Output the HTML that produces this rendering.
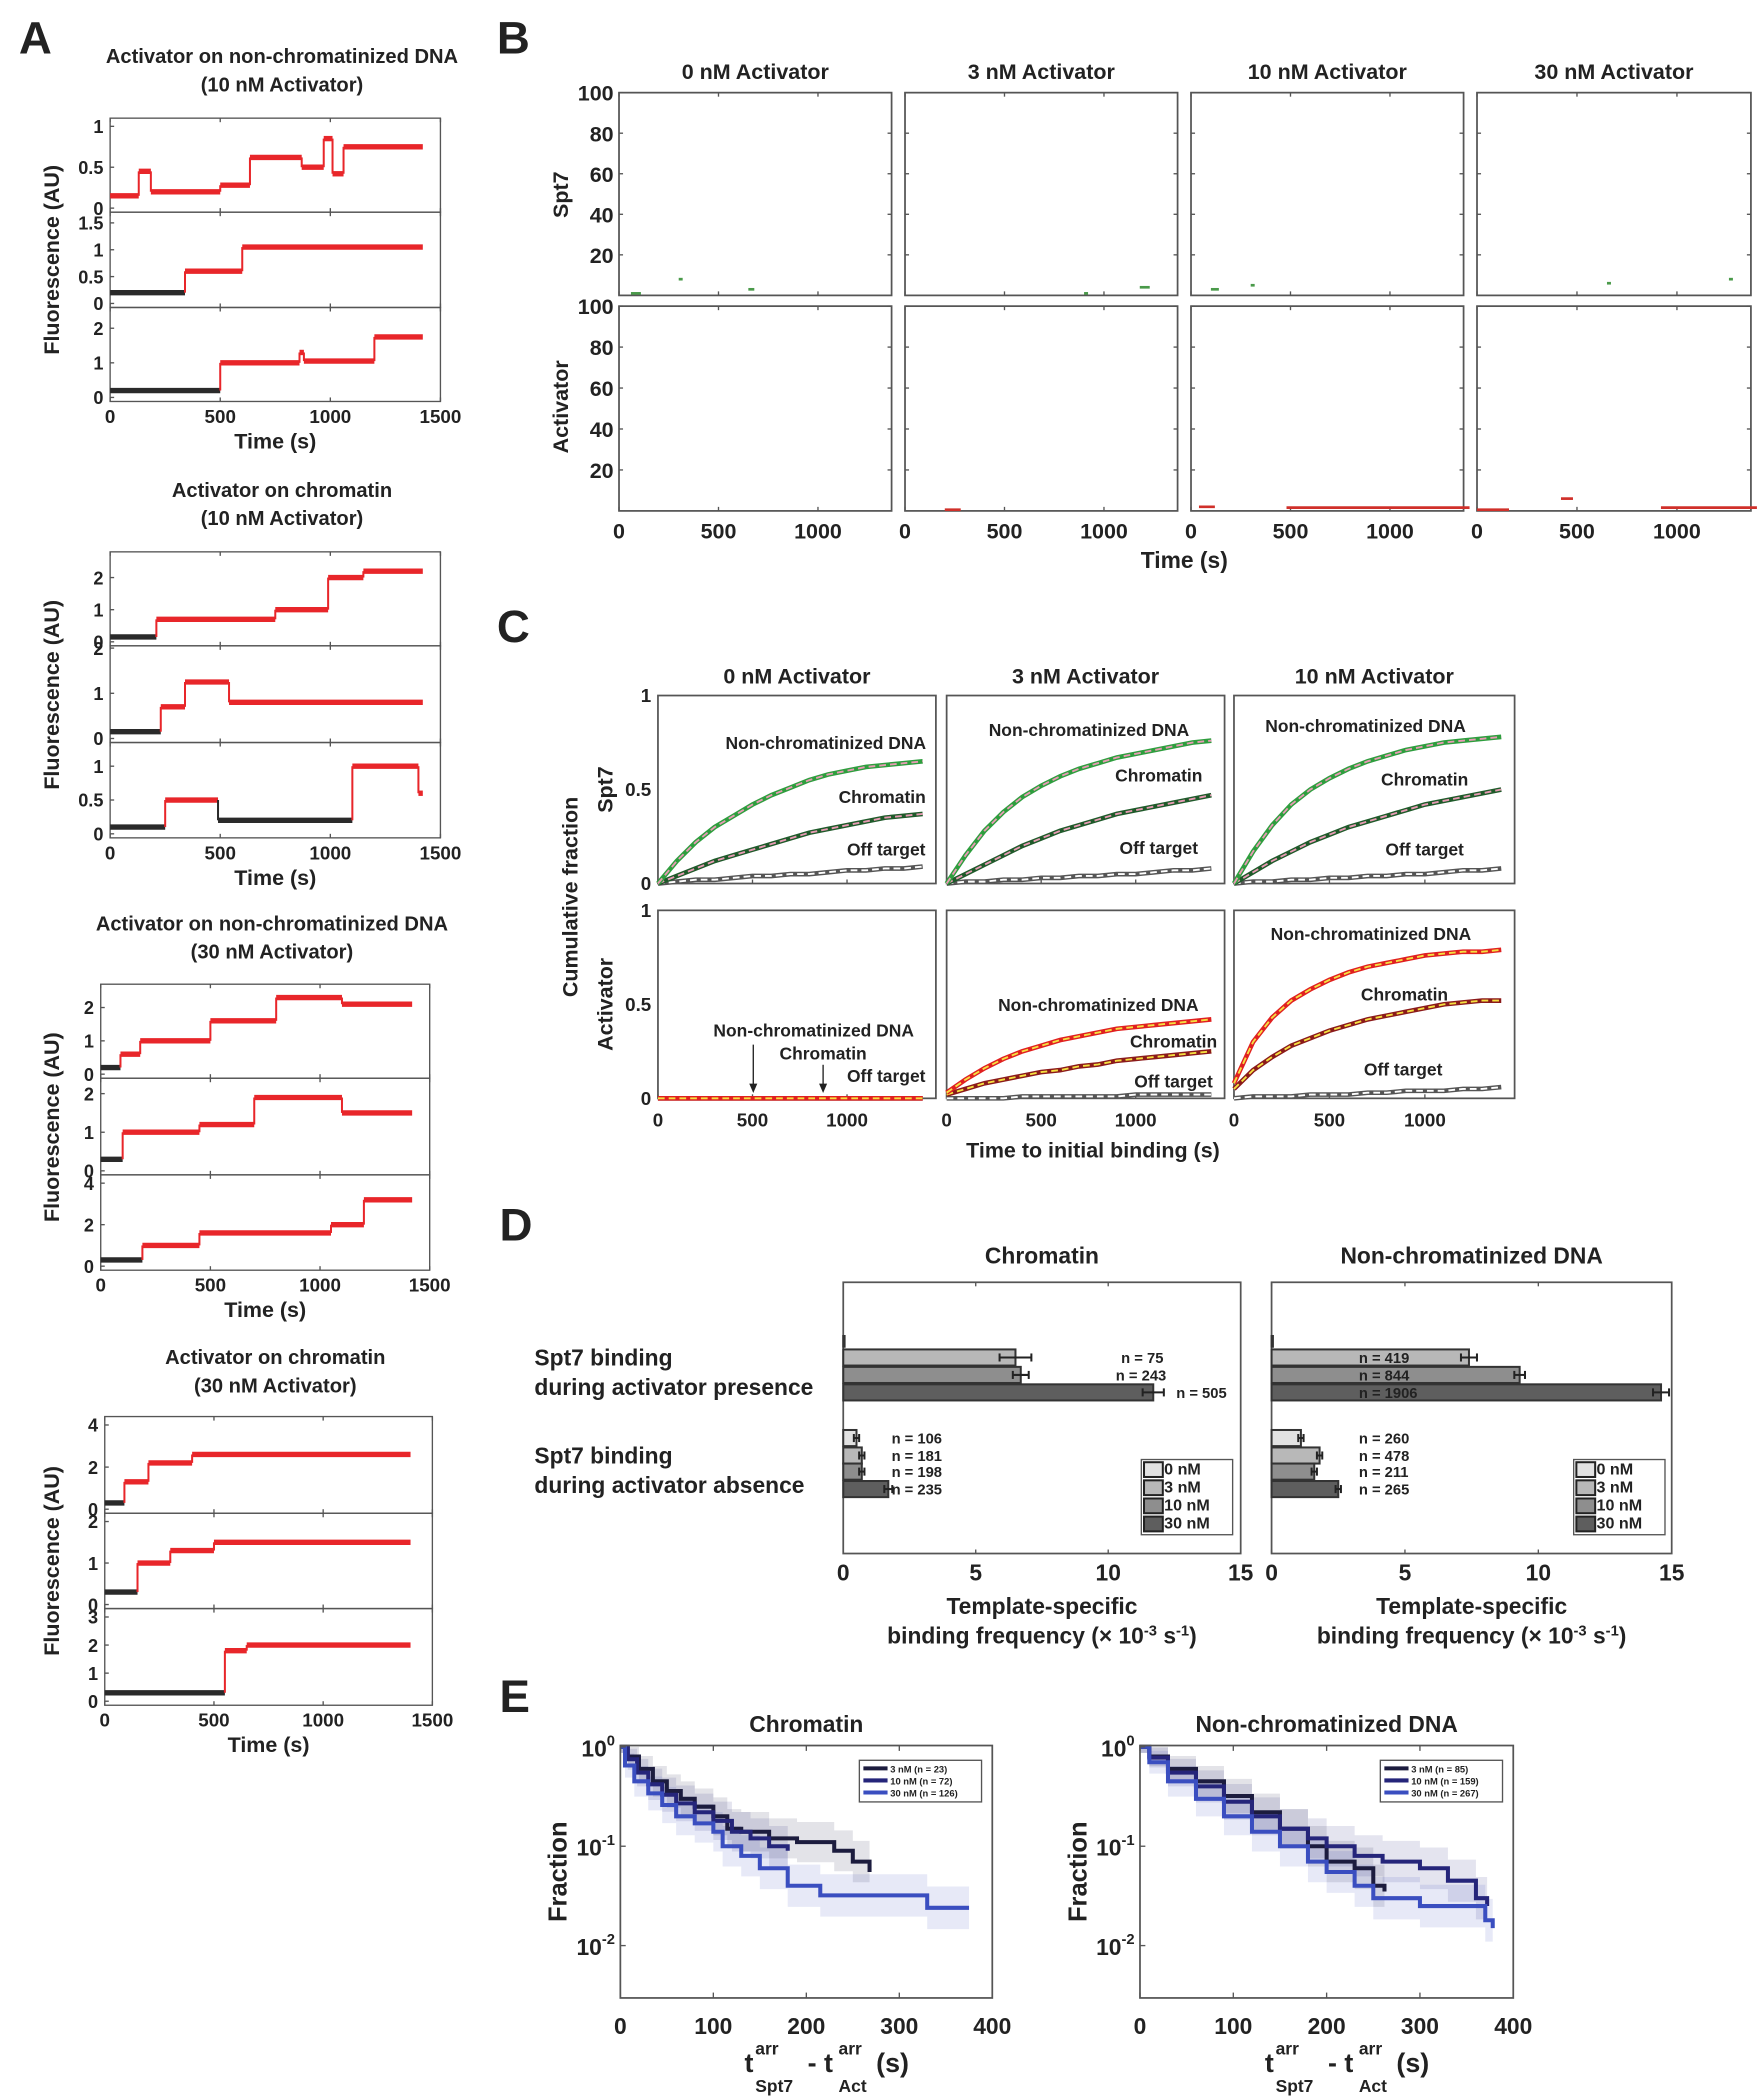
<!DOCTYPE html>
<html><head><meta charset="utf-8"><style>
html,body{margin:0;padding:0;background:#fff;}
svg{display:block;}
text{font-family:"Liberation Sans",sans-serif;font-weight:bold;fill:#222;}
.n{font-family:"Liberation Sans Narrow","Liberation Sans",sans-serif;}
</style></head><body>
<svg id="fig" xmlns="http://www.w3.org/2000/svg" width="1759" height="2100" viewBox="0 0 1310 1564"></svg>
<script>
// ---------- Panel A data (step traces: start times, levels, colour k/r) ----------
const aP1T = [[0,130,185,500,635,870,970,1010,1060],[0,340,600],[0,500,860,880,1200]];
const aP1L = [[0.15,0.45,0.2,0.28,0.62,0.5,0.85,0.42,0.75],[0.2,0.6,1.05],[0.2,1.0,1.3,1.05,1.75]];
const aP1C = [["r","r","r","r","r","r","r","r","r"],["k","r","r"],["k","r","r","r","r"]];
const aP2T = [[0,210,750,990,1150],[0,230,340,540],[0,250,490,1100,1400]];
const aP2L = [[0.15,0.7,1.0,2.0,2.2],[0.15,0.7,1.25,0.8],[0.1,0.5,0.2,1.0,0.6]];
const aP2C = [["k","r","r","r","r"],["k","r","r","r"],["k","r","k","r","r"]];
const aP3T = [[0,90,180,500,800,1100],[0,100,450,700,1100],[0,190,450,1050,1200]];
const aP3L = [[0.2,0.6,1.0,1.6,2.3,2.1],[0.3,1.0,1.2,1.9,1.5],[0.3,1.0,1.6,2.0,3.2]];
const aP3C = [["k","r","r","r","r","r"],["k","r","r","r","r"],["k","r","r","r","r"]];
const aP4T = [[0,90,200,400],[0,150,300,500],[0,550,650]];
const aP4L = [[0.3,1.3,2.2,2.6],[0.3,1.0,1.3,1.5],[0.3,1.8,2.0]];
const aP4C = [["k","r","r","r"],["k","r","r","r"],["k","r","r"]];
const aYmax = [[1.1,1.7,2.6],[2.8,2.05,1.35],[2.7,2.4,4.4],[4.4,2.2,3.3]];
const aYticks = [[[0,0.5,1],[0,0.5,1,1.5],[0,1,2]],[[0,1,2],[0,1,2],[0,0.5,1]],[[0,1,2],[0,1,2],[0,2,4]],[[0,2,4],[0,1,2],[0,1,2,3]]];
const aXticks = [0,500,1000,1500];
// ---------- Panel B data ----------
const bCols = ["0 nM Activator","3 nM Activator","10 nM Activator","30 nM Activator"];
const bYticks = [20,40,60,80,100];
const bXticks = [0,500,1000];
const bSpt7Marks = [[[60,110,1],[650,680,3],[300,320,8]],[[1180,1230,4],[900,920,1]],[[100,140,3],[300,320,5]],[[650,670,6],[1260,1280,8]]];
const bActMarks = [[],[[200,280,0.6]],[[40,120,2],[480,1400,1.6]],[[0,160,0.6],[420,480,6],[920,1400,1.6]]];
// ---------- Panel C data ----------
const cT = [0,100,200,300,400,500,600,700,800,900,1000,1100,1200,1300,1400];
const cTopNon = [[0,0.12,0.22,0.3,0.36,0.42,0.47,0.51,0.55,0.58,0.6,0.62,0.63,0.64,0.65],[0,0.15,0.28,0.38,0.46,0.52,0.57,0.61,0.64,0.67,0.69,0.71,0.73,0.75,0.76],[0,0.17,0.31,0.42,0.5,0.56,0.61,0.65,0.68,0.71,0.73,0.75,0.76,0.77,0.78]];
const cTopChr = [[0,0.04,0.08,0.12,0.15,0.18,0.21,0.24,0.27,0.29,0.31,0.33,0.35,0.36,0.37],[0,0.05,0.1,0.15,0.2,0.24,0.28,0.31,0.34,0.37,0.39,0.41,0.43,0.45,0.47],[0,0.06,0.12,0.17,0.22,0.26,0.3,0.33,0.36,0.39,0.42,0.44,0.46,0.48,0.5]];
const cTopOff = [[0,0.01,0.02,0.02,0.03,0.04,0.04,0.05,0.05,0.06,0.07,0.07,0.08,0.08,0.09],[0,0.01,0.01,0.02,0.02,0.03,0.03,0.04,0.04,0.05,0.05,0.06,0.07,0.07,0.08],[0,0.01,0.01,0.02,0.02,0.03,0.03,0.04,0.04,0.05,0.05,0.06,0.07,0.07,0.08]];
const cBotNon = [[0,0,0,0,0,0,0,0,0,0,0,0,0,0,0],[0.03,0.1,0.16,0.21,0.25,0.28,0.31,0.33,0.35,0.37,0.38,0.39,0.4,0.41,0.42],[0.08,0.3,0.43,0.52,0.58,0.63,0.67,0.7,0.72,0.74,0.76,0.77,0.78,0.78,0.79]];
const cBotChr = [[0,0,0,0,0,0,0,0,0,0,0,0,0,0,0],[0.02,0.05,0.08,0.1,0.12,0.14,0.15,0.17,0.18,0.2,0.21,0.22,0.23,0.24,0.25],[0.05,0.15,0.22,0.28,0.32,0.36,0.39,0.42,0.44,0.46,0.48,0.5,0.51,0.52,0.52]];
const cBotOff = [[0,0,0,0,0,0,0,0,0,0,0,0,0,0,0],[0,0,0,0,0.01,0.01,0.01,0.01,0.01,0.01,0.02,0.02,0.02,0.02,0.02],[0,0.01,0.01,0.01,0.02,0.02,0.02,0.03,0.03,0.04,0.04,0.04,0.05,0.05,0.06]];
const cCols = ["0 nM Activator","3 nM Activator","10 nM Activator"];
// ---------- Panel D data ----------
const dConc = ["0 nM","3 nM","10 nM","30 nM"];
const dChrPres = [0.05,6.5,6.7,11.7];
const dChrPresErr = [0,0.6,0.3,0.4];
const dChrAbs = [0.5,0.7,0.7,1.7];
const dChrAbsErr = [0.1,0.1,0.1,0.15];
const dNonPres = [0.05,7.4,9.3,14.6];
const dNonPresErr = [0,0.3,0.2,0.3];
const dNonAbs = [1.1,1.8,1.6,2.5];
const dNonAbsErr = [0.1,0.1,0.1,0.1];
const dChrN = ["","n = 75","n = 243","n = 505","n = 106","n = 181","n = 198","n = 235"];
const dNonN = ["","n = 419","n = 844","n = 1906","n = 260","n = 478","n = 211","n = 265"];
const dXticks = [0,5,10,15];
// ---------- Panel E data ----------
const eLabelsChr = ["3 nM (n = 23)","10 nM (n = 72)","30 nM (n = 126)"];
const eLabelsNon = ["3 nM (n = 85)","10 nM (n = 159)","30 nM (n = 267)"];
const eChrT = [[0,8,20,35,50,65,80,100,115,130,160,190,230,250,268],[0,8,18,30,45,60,80,100,120,140,160,180],[0,5,15,30,45,60,80,100,110,130,150,180,215,330,375]];
const eChrF = [[1,0.8,0.6,0.45,0.36,0.3,0.25,0.2,0.15,0.14,0.12,0.11,0.09,0.07,0.055],[1,0.75,0.55,0.42,0.33,0.27,0.22,0.18,0.14,0.12,0.1,0.09],[1,0.65,0.45,0.34,0.26,0.2,0.17,0.14,0.1,0.08,0.06,0.04,0.032,0.024,0.024]];
const eNonT = [[0,10,30,60,90,120,150,180,200,230,250,262],[0,10,30,60,90,120,150,180,200,230,260,300,330,360,372],[0,10,30,60,90,120,150,180,200,230,250,300,370,378]];
const eNonF = [[1,0.8,0.6,0.45,0.32,0.22,0.15,0.1,0.07,0.06,0.04,0.035],[1,0.78,0.55,0.4,0.28,0.2,0.15,0.12,0.1,0.08,0.07,0.06,0.045,0.03,0.025],[1,0.7,0.45,0.3,0.2,0.14,0.1,0.07,0.055,0.04,0.03,0.025,0.018,0.015]];
const eXticks = [0,100,200,300,400];
const eColors = ["#1c1c3e","#25257a","#3a4ec0"];

const NS="http://www.w3.org/2000/svg";
const svg=document.getElementById('fig');
function mk(tag,attrs,name,parent){
  const el=document.createElementNS(NS,tag);
  for(const k in attrs) el.setAttribute(k,attrs[k]);
  
  
  (parent||svg).appendChild(el);
  return el;
}
function txt(x,y,s,size,name,opt){
  opt=opt||{};
  const t=mk('text',{x:x,y:y,'font-size':size,'text-anchor':opt.anchor||'middle',fill:opt.fill||'#222'},name,opt.parent);
  if(opt.cls) t.setAttribute('class',opt.cls);
  if(opt.rot) t.setAttribute('transform','rotate(-90 '+x+' '+y+')');
  t.textContent=s; return t;
}
function line(x1,y1,x2,y2,stroke,w,name,extra){
  const a={x1:x1,y1:y1,x2:x2,y2:y2,stroke:stroke,'stroke-width':w};
  for(const k in (extra||{})) a[k]=extra[k];
  return mk('line',a,name);
}
function rect(x,y,w,h,fill,stroke,name,sw){
  return mk('rect',{x:x,y:y,width:w,height:h,fill:fill,stroke:stroke||'none','stroke-width':sw||1},name);
}
[["A",14,40],["B",370,40],["C",370,478],["D",372,924],["E",372,1275]].forEach(p=>{
  txt(p[1],p[2],p[0],34,'panel-label-'+p[0].toLowerCase(),{anchor:'start'});
});

// ---------- Panel A ----------
const aBoxes=[
 {x0:82,x1:328,ys:[88,158,229,299],t1:'Activator on non-chromatinized DNA',t2:'(10 nM Activator)',ty:47},
 {x0:82,x1:328,ys:[411,481,553,624],t1:'Activator on chromatin',t2:'(10 nM Activator)',ty:370},
 {x0:75,x1:320,ys:[733,803,875,946],t1:'Activator on non-chromatinized DNA',t2:'(30 nM Activator)',ty:693},
 {x0:78,x1:322,ys:[1055,1127,1198,1270],t1:'Activator on chromatin',t2:'(30 nM Activator)',ty:1016}];
const aT=[aP1T,aP2T,aP3T,aP4T],aL=[aP1L,aP2L,aP3L,aP4L],aC=[aP1C,aP2C,aP3C,aP4C];
aBoxes.forEach((b,pi)=>{
  txt((b.x0+b.x1)/2+5,b.ty,b.t1,15,'trace-panel-title-'+pi);
  txt((b.x0+b.x1)/2+5,b.ty+21,b.t2,15,'trace-panel-subtitle-'+pi);
  const xs=v=>b.x0+(v/1500)*(b.x1-b.x0);
  for(let s=0;s<3;s++){
    const top=b.ys[s],bot=b.ys[s+1];
    const ys=v=>bot-3-(v/aYmax[pi][s])*(bot-top-3);
    rect(b.x0,top,b.x1-b.x0,bot-top,'none','#555','trace-axes-box',1);
    aXticks.forEach(t=>{line(xs(t),top,xs(t),top+3,'#555',1,'x-tick');line(xs(t),bot,xs(t),bot-3,'#555',1,'x-tick');});
    aYticks[pi][s].forEach(v=>{
      line(b.x0,ys(v),b.x0+3,ys(v),'#555',1,'y-tick');
      txt(b.x0-5,ys(v)+5,String(v),13.5,'y-tick-label',{anchor:'end'});
    });
    const T=aT[pi][s],L=aL[pi][s],C=aC[pi][s];
    const end=(pi==3?1400:1420);
    for(let i=0;i<T.length;i++){
      const t1=(i+1<T.length)?T[i+1]:end;
      const col=C[i]=='r'?'#e8262a':'#2a2a2a';
      line(xs(T[i]),ys(L[i]),xs(t1),ys(L[i]),col,4,'trace-segment');
      if(i+1<T.length){
        const c2=C[i+1]=='r'?'#e8262a':'#2a2a2a';
        line(xs(t1),ys(L[i]),xs(t1),ys(L[i+1]),c2,1.5,'trace-step');
      }
    }
  }
  aXticks.forEach(t=>txt(xs(t),b.ys[3]+16,String(t),14,'x-tick-label'));
  txt((b.x0+b.x1)/2,b.ys[3]+35,'Time (s)',16,'x-axis-title');
  txt(44,(b.ys[0]+b.ys[3])/2,'Fluorescence (AU)',16,'y-axis-title',{rot:true,cls:'n'});
});

// ---------- Panel B ----------
const bX=[[461,664],[674,877],[887,1090],[1100,1304]];
const bRows=[[69,220],[228,380.5]];
bCols.forEach((c,ci)=>{
  const [x0,x1]=bX[ci];
  txt((x0+x1)/2,59,c,16,'raster-column-title',{cls:'n'});
  const xs=v=>x0+(v/1370)*(x1-x0);
  bRows.forEach((r,ri)=>{
    const [y0,y1]=r;
    const ys=v=>y1-(v/100)*(y1-y0);
    rect(x0,y0,x1-x0,y1-y0,'none','#555','raster-axes-box',1.3);
    bYticks.forEach(v=>{line(x0,ys(v),x0+3,ys(v),'#555',1,'y-tick');line(x1,ys(v),x1-3,ys(v),'#555',1,'y-tick');
      if(ci==0) txt(x0-4,ys(v)+6,String(v),16,'y-tick-label',{anchor:'end',cls:'n'});});
    bXticks.forEach(t=>{line(xs(t),y0,xs(t),y0+3,'#555',1,'x-tick');line(xs(t),y1,xs(t),y1-3,'#555',1,'x-tick');});
    const marks=ri==0?bSpt7Marks[ci]:bActMarks[ci];
    marks.forEach(m=>{
      line(xs(m[0]),ys(m[2]),xs(m[1]),ys(m[2]),ri==0?'#4a9a4a':'#d0302a',2,'raster-mark');
    });
  });
  bXticks.forEach(t=>txt(xs(t),401,String(t),16,'x-tick-label',{cls:'n'}));
});
txt(882,423,'Time (s)',17,'x-axis-title',{cls:'n'});
txt(423,145,'Spt7',16,'row-label-spt7',{rot:true});
txt(423,303,'Activator',16,'row-label-activator',{rot:true});

// ---------- Panel C ----------
const cX=[[490,697],[705,912],[919,1128]];
const cRows=[[518,658],[678,818]];
const topLbl=[[[615,558],[657,598],[660,637]],[[811,548],[863,582],[863,636]],[[1017,545],[1061,585],[1061,637]]];
const botLbl=[[[606,772],[613,789],[660,806]],[[818,753],[874,780],[874,810]],[[1021,700],[1046,745],[1045,801]]];
cCols.forEach((c,ci)=>{
  const [x0,x1]=cX[ci];
  txt((x0+x1)/2,509,c,16,'cumulative-column-title');
  const xs=v=>x0+(v/1470)*(x1-x0);
  cRows.forEach((r,ri)=>{
    const [y0,y1]=r;
    const ys=v=>y1-v*(y1-y0);
    rect(x0,y0,x1-x0,y1-y0,'none','#555','cumulative-axes-box',1.3);
    if(ci==0){[0,0.5,1].forEach(v=>txt(x0-5,ys(v)+5,String(v),14,'y-tick-label',{anchor:'end'}));}
    [0,500,1000].forEach(t=>line(xs(t),y1,xs(t),y1-3,'#555',1,'x-tick'));
    const sets = ri==0 ? [[cTopOff[ci],'#555','#fff'],[cTopChr[ci],'#1f5a2a','#e79ab3'],[cTopNon[ci],'#2e9e3e','#e79ab3']]
                       : [[cBotOff[ci],'#555','#fff'],[cBotChr[ci],'#8b1a1a','#f5e040'],[cBotNon[ci],'#e02020','#f5e040']];
    sets.forEach((st,si)=>{
      const pts=cT.map((t,i)=>xs(t)+','+ys(st[0][i])).join(' ');
      mk('polyline',{points:pts,fill:'none',stroke:st[1],'stroke-width':3.5},'cumulative-curve');
      mk('polyline',{points:pts,fill:'none',stroke:st[2],'stroke-width':1.4,'stroke-dasharray':'5 3'},'cumulative-fit');
    });
    const lbl=ri==0?topLbl[ci]:botLbl[ci];
    const cols=ri==0?['#2e9e3e','#1f5a2a','#666']:['#e02020','#8b1a1a','#666'];
    ['Non-chromatinized DNA','Chromatin','Off target'].forEach((s,k)=>txt(lbl[k][0],lbl[k][1],s,13,'curve-label',{fill:cols[k]}));
  });
  [0,500,1000].forEach(t=>txt(xs(t),839,String(t),14,'x-tick-label'));
});
[[561,778],[613,793]].forEach(a=>{
  line(a[0],a[1],a[0],809,'#222',1,'annotation-arrow');
  mk('polygon',{points:(a[0]-3)+',807 '+(a[0]+3)+',807 '+a[0]+',814',fill:'#222'},'annotation-arrowhead');
});
txt(814,862,'Time to initial binding (s)',16,'x-axis-title');
txt(430,668,'Cumulative fraction',16,'y-axis-title',{rot:true});
txt(456,588,'Spt7',16,'row-label-spt7',{rot:true});
txt(456,748,'Activator',16,'row-label-activator',{rot:true});

// ---------- Panel D ----------
const dFills=['#e2e2e2','#b8b8b8','#8e8e8e','#5e5e5e'];
const dPanels=[{x0:628,x1:924,pres:dChrPres,pe:dChrPresErr,abs:dChrAbs,ae:dChrAbsErr,n:dChrN,title:'Chromatin',nx:[0,835,831,876,664,664,664,664],lx:850},
               {x0:947,x1:1245,pres:dNonPres,pe:dNonPresErr,abs:dNonAbs,ae:dNonAbsErr,n:dNonN,title:'Non-chromatinized DNA',nx:[0,1012,1012,1012,1012,1012,1012,1012],lx:1172}];
const dY0=955,dY1=1157;
const presY=[995,1005,1018,1031],absY=[1065,1078,1090,1103];
dPanels.forEach((p,pi)=>{
  const xs=v=>p.x0+(v/15)*(p.x1-p.x0);
  txt((p.x0+p.x1)/2,941,p.title,17,'bar-panel-title',{cls:'n'});
  rect(p.x0,dY0,p.x1-p.x0,dY1-dY0,'none','#555','bar-axes-box',1.3);
  dXticks.forEach(t=>{line(xs(t),dY0,xs(t),dY0+3,'#555',1,'x-tick');line(xs(t),dY1,xs(t),dY1-3,'#555',1,'x-tick');
    txt(xs(t),1177,String(t),17,'x-tick-label',{cls:'n'});});
  [[p.pres,p.pe,presY,0],[p.abs,p.ae,absY,4]].forEach(g=>{
    g[0].forEach((v,i)=>{
      const h=(g[3]==0&&i==0)?8:12;
      rect(p.x0,g[2][i],Math.max(xs(v)-p.x0,1),h,dFills[i],'#333','bar-'+dConc[i].replace(' ','')+'-'+(g[3]==0?'presence':'absence'),1.5);
      if(g[1][i]>0){
        const yc=g[2][i]+h/2;
        line(xs(v-g[1][i]),yc,xs(v+g[1][i]),yc,'#222',1.5,'error-bar');
        line(xs(v-g[1][i]),yc-3,xs(v-g[1][i]),yc+3,'#222',1.5,'error-cap');
        line(xs(v+g[1][i]),yc-3,xs(v+g[1][i]),yc+3,'#222',1.5,'error-cap');
      }
      const lab=p.n[g[3]+i];
      if(lab) txt(p.nx[g[3]+i],g[2][i]+10,lab,11,'n-label',{anchor:'start',cls:'n',fill:(pi==1&&g[3]==0&&i==3)?'#444':'#222'});
    });
  });
  rect(p.lx,1087,68,56,'#fff','#555','bar-legend',1);
  dConc.forEach((c,i)=>{
    rect(p.lx+2,1089+i*13.5,14,11,dFills[i],'#222','legend-swatch',1.5);
    txt(p.lx+17,1098+i*13.5,c,12,'legend-entry',{anchor:'start',cls:'n'});
  });
  txt((p.x0+p.x1)/2,1202,'Template-specific',17,'x-axis-title-line1',{cls:'n'});
  const t2=txt((p.x0+p.x1)/2,1224,'binding frequency (× 10',17,'x-axis-title-line2',{cls:'n'});
  const sup1=mk('tspan',{dy:-6,'font-size':11},'superscript',t2); sup1.textContent='-3';
  const r1=mk('tspan',{dy:6},'unit',t2); r1.textContent=' s';
  const sup2=mk('tspan',{dy:-6,'font-size':11},'superscript',t2); sup2.textContent='-1';
  const r2=mk('tspan',{dy:6},'unit',t2); r2.textContent=')';
});
txt(398,1017,'Spt7 binding',17,'row-label-presence-1',{anchor:'start',cls:'n'});
txt(398,1039,'during activator presence',17,'row-label-presence-2',{anchor:'start',cls:'n'});
txt(398,1090,'Spt7 binding',17,'row-label-absence-1',{anchor:'start',cls:'n'});
txt(398,1112,'during activator absence',17,'row-label-absence-2',{anchor:'start',cls:'n'});

// ---------- Panel E ----------
const ePanels=[{x0:462,x1:739,T:eChrT,F:eChrF,L:eLabelsChr,title:'Chromatin',lx:640},{x0:849,x1:1127,T:eNonT,F:eNonF,L:eLabelsNon,title:'Non-chromatinized DNA',lx:1028}];
const eY0=1300,eY1=1488,eTop=1301,eDec=74;
ePanels.forEach((p,pi)=>{
  const xs=v=>p.x0+(v/400)*(p.x1-p.x0);
  const ys=f=>eTop-Math.log10(f)*eDec;
  txt((p.x0+p.x1)/2,1290,p.title,17,'survival-panel-title',{cls:'n'});
  p.T.forEach((T,si)=>{
    let up='',lo='';
    for(let i=0;i<T.length;i++){
      const t1=(i+1<T.length)?T[i+1]:T[i];
      const f=p.F[si][i];
      const k=1.15+0.5*(1-f);
      up+=xs(T[i])+','+ys(Math.min(1,f*k))+' '+xs(t1)+','+ys(Math.min(1,f*k))+' ';
      lo=xs(t1)+','+Math.min(eY1,ys(f/k))+' '+xs(T[i])+','+Math.min(eY1,ys(f/k))+' '+lo;
    }
    mk('polygon',{points:up+lo,fill:eColors[si],'fill-opacity':0.12},'confidence-band');
  });
  p.T.forEach((T,si)=>{
    let d='';
    for(let i=0;i<T.length;i++){
      const t1=(i+1<T.length)?T[i+1]:T[i];
      d+=(i==0?'M':'L')+xs(T[i])+','+ys(p.F[si][i])+' L'+xs(t1)+','+ys(p.F[si][i])+' ';
    }
    mk('path',{d:d,fill:'none',stroke:eColors[si],'stroke-width':3},'survival-curve');
  });
  rect(p.x0,eY0,p.x1-p.x0,eY1-eY0,'none','#555','survival-axes-box',1.3);
  eXticks.forEach(t=>{line(xs(t),eY1,xs(t),eY1-4,'#555',1,'x-tick');line(xs(t),eY0,xs(t),eY0+4,'#555',1,'x-tick');
    txt(xs(t),1515,String(t),17,'x-tick-label',{cls:'n'});});
  [0,-1,-2].forEach(e=>{
    const yy=eTop+(-e)*eDec;
    line(p.x0,yy,p.x0+4,yy,'#555',1,'y-tick');
    const t=txt(p.x0-4,yy+7,'10',17,'y-tick-label',{anchor:'end',cls:'n'});
    const sp=mk('tspan',{dy:-8,'font-size':11},'exponent',t); sp.textContent=String(e);
  });
  rect(p.lx,1311,p.x1-p.lx-8,31,'#fff','#555','survival-legend',1);
  p.L.forEach((l,i)=>{
    line(p.lx+3,1317+i*9,p.lx+21,1317+i*9,eColors[i],3,'legend-line');
    txt(p.lx+23,1320+i*9,l,7,'legend-entry',{anchor:'start',cls:'n'});
  });
  const cx=(p.x0+p.x1)/2;
  txt(cx-46,1543,'t',20,'x-axis-title-t1',{anchor:'start'});
  txt(cx-38,1530,'arr',13,'x-axis-title-sup1',{anchor:'start'});
  txt(cx-38,1558,'Spt7',13,'x-axis-title-sub1',{anchor:'start'});
  txt(cx+1,1543,'- t',20,'x-axis-title-minus',{anchor:'start'});
  txt(cx+24,1530,'arr',13,'x-axis-title-sup2',{anchor:'start'});
  txt(cx+24,1558,'Act',13,'x-axis-title-sub2',{anchor:'start'});
  txt(cx+52,1543,'(s)',20,'x-axis-title-unit',{anchor:'start'});
  txt(p.x0-40,1394,'Fraction',19,'y-axis-title',{rot:true});
});
</script>
</body></html>
